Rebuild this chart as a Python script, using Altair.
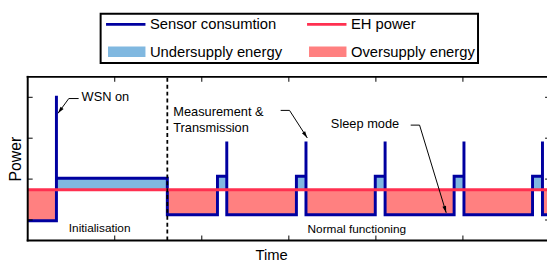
import math
import altair as alt
import pandas as pd

# ---------------- data (x in tick units, y in tick units) ----------------
x_max = 5.966
y_max = 4.0
x_ticks = [1, 2, 3, 4, 5]
y_ticks = [0.5, 1.5, 2.5, 3.5]

level_off = 0.48
level_init = 1.52
level_meas = 1.57
level_sleep = 0.63
level_eh = 1.24
peak_wsn = 3.54
peak_tx = 2.42

t_wsn_on = 0.33
t_init_end = 1.604
cycle_start = [2.18, 3.087, 3.993, 4.899, 5.80]
cycle_spike = [2.287, 3.197, 4.106, 5.012, 5.914]
t_end = 6.3

series_names = ["Sensor consumtion", "EH power", "Undersupply energy", "Oversupply energy"]
series_colors = ["#0000A0", "#FF3050", "#80B8E0", "#FF8080"]

ann_text = ["WSN on", "Measurement &", "Transmission", "Sleep mode", "Initialisation", "Normal functioning"]
ann_x = [0.619, 1.672, 1.672, 3.483, 0.472, 3.215]
ann_y = [3.494, 3.14, 2.74, 2.836, 0.313, 0.272]
ann_fs = [13, 13, 13, 13, 12, 12]

arrow_id = ["wsn", "wsn", "wsn", "meas", "meas", "meas", "sleep", "sleep", "sleep"]
arrow_x = [0.585, 0.472, 0.348, 2.906, 3.008, 3.212, 4.40, 4.502, 4.808]
arrow_y = [3.47, 3.47, 3.108, 3.18, 3.18, 2.506, 2.82, 2.82, 0.675]

# ---------------- tables ----------------
sx, sy = [0, t_wsn_on, t_wsn_on, t_wsn_on, t_init_end, t_init_end], \
         [level_off, level_off, peak_wsn, level_init, level_init, level_sleep]
for cs, sp in zip(cycle_start, cycle_spike):
    sx += [cs, cs, sp, sp, sp]
    sy += [level_sleep, level_meas, level_meas, peak_tx, level_sleep]
sx += [t_end]
sy += [level_sleep]
sensor = pd.DataFrame({"t": sx, "p": sy, "i": range(len(sx))})

over = pd.DataFrame({
    "t0": [0, t_init_end] + cycle_spike,
    "t1": [t_wsn_on] + cycle_start + [t_end],
    "p0": [level_off] + [level_sleep] * (len(cycle_start) + 1),
    "p1": [level_eh] * (len(cycle_start) + 2),
})
under = pd.DataFrame({
    "t0": [t_wsn_on] + cycle_start,
    "t1": [t_init_end] + cycle_spike,
    "p0": [level_eh] * (len(cycle_start) + 1),
    "p1": [level_init] + [level_meas] * len(cycle_start),
})
eh = pd.DataFrame({"t": [0, t_end], "p": [level_eh, level_eh]})
dash = pd.DataFrame({"t0": [t_init_end], "t1": [t_init_end], "p0": [0], "p1": [y_max]})

borders = pd.DataFrame({
    "t0": [0, 0, 0], "t1": [x_max, x_max, 0],
    "p0": [0, y_max, 0], "p1": [0, y_max, y_max],
})
tx_len, ty_len = 0.057, 0.12
ticks = pd.DataFrame({
    "t0": x_ticks + x_ticks + [0] * 4 + [x_max - 0.022] * 4,
    "t1": x_ticks + x_ticks + [tx_len] * 4 + [x_max] * 4,
    "p0": [0] * 5 + [y_max - ty_len] * 5 + y_ticks + y_ticks,
    "p1": [ty_len] * 5 + [y_max] * 5 + y_ticks + y_ticks,
})

arrows = pd.DataFrame({"a": arrow_id, "t": arrow_x, "p": arrow_y, "i": range(len(arrow_x))})
heads = []
for k in range(2, len(arrow_x), 3):
    dx = (arrow_x[k] - arrow_x[k - 1]) * 88.33
    dy = -(arrow_y[k] - arrow_y[k - 1]) * 41.5
    ang = math.degrees(math.atan2(dx, -dy)) % 360
    heads.append({"t": arrow_x[k], "p": arrow_y[k], "ang": ang})
heads = pd.DataFrame(heads)

ann = pd.DataFrame({"txt": ann_text, "t": ann_x, "p": ann_y, "fs": ann_fs})

line_path = "M-1,-0.3H7V0.3H-1Z"
rect_path = "M-0.6,-1.05H7V1.05H-0.6Z"
leg_df = pd.DataFrame({"series": series_names, "t": [1] * 4, "p": [1] * 4})

# ---------------- chart ----------------
FONT = "Liberation Sans"
xs = alt.Scale(domain=[0, x_max], nice=False, zero=False)
ys = alt.Scale(domain=[0, y_max], nice=False, zero=False)
xa = alt.Axis(title="Time", domain=False, ticks=False, labels=False, grid=False,
              titleFont=FONT, titleFontSize=15, titleFontWeight="normal",
              titleColor="black", titlePadding=7, titleX=247, titleAlign="center")
ya = alt.Axis(title="Power", domain=False, ticks=False, labels=False, grid=False,
              titleFont=FONT, titleFontSize=16, titleFontWeight="normal",
              titleColor="black", titlePadding=4)


def X(f):
    return alt.X(f"{f}:Q", scale=xs, axis=xa)


def Y(f):
    return alt.Y(f"{f}:Q", scale=ys, axis=ya)


over_l = alt.Chart(over).mark_rect(color=series_colors[3], clip=True).encode(
    x=X("t0"), x2="t1", y=Y("p0"), y2="p1")
under_l = alt.Chart(under).mark_rect(color=series_colors[2], clip=True).encode(
    x=X("t0"), x2="t1", y=Y("p0"), y2="p1")
sensor_l = alt.Chart(sensor).mark_line(color=series_colors[0], strokeWidth=3, clip=True).encode(
    x=X("t"), y=Y("p"), order="i:Q")
eh_l = alt.Chart(eh).mark_line(color=series_colors[1], strokeWidth=3, clip=True).encode(
    x=X("t"), y=Y("p"))
dash_l = alt.Chart(dash).mark_rule(color="black", strokeWidth=1.8, strokeDash=[4, 3]).encode(
    x=X("t0"), x2="t1", y=Y("p0"), y2="p1")
border_l = alt.Chart(borders).mark_rule(color="black", strokeWidth=2, strokeCap="square").encode(
    x=X("t0"), x2="t1", y=Y("p0"), y2="p1")
tick_l = alt.Chart(ticks).mark_rule(color="black", strokeWidth=1).encode(
    x=X("t0"), x2="t1", y=Y("p0"), y2="p1")
arrow_l = alt.Chart(arrows).mark_line(color="black", strokeWidth=1).encode(
    x=X("t"), y=Y("p"), detail="a:N", order="i:Q")
head_l = alt.Chart(heads).mark_point(shape="M0,0L0.55,2L-0.55,2Z", filled=True, size=49,
                                     color="black", strokeWidth=0, opacity=1).encode(
    x=X("t"), y=Y("p"), angle=alt.Angle("ang:Q", scale=None))
text13 = alt.Chart(ann[ann.fs == 13]).mark_text(align="left", baseline="middle", font=FONT,
                                                fontSize=13, color="black").encode(
    x=X("t"), y=Y("p"), text="txt:N")
text12 = alt.Chart(ann[ann.fs == 12]).mark_text(align="left", baseline="middle", font=FONT,
                                                fontSize=12, color="black").encode(
    x=X("t"), y=Y("p"), text="txt:N")

leg = alt.Legend(title=None, orient="none", legendX=74, legendY=-64, columns=2,
                 direction="horizontal",
                 columnPadding=22, rowPadding=12, padding=3,
                 labelFont=FONT, labelFontSize=15, labelColor="black", labelOffset=32,
                 labelLimit=400, symbolSize=100, symbolOpacity=1, symbolStrokeWidth=0,
                 strokeColor="black")
legend_l = alt.Chart(leg_df).mark_point(filled=True, opacity=0, size=100).encode(
    x=X("t"), y=Y("p"),
    color=alt.Color("series:N", scale=alt.Scale(domain=series_names, range=series_colors), legend=leg),
    shape=alt.Shape("series:N", scale=alt.Scale(domain=series_names,
                                                range=[line_path, line_path, rect_path, rect_path]),
                    legend=leg),
)

chart = alt.layer(
    over_l, under_l, sensor_l, eh_l, dash_l, border_l, tick_l, arrow_l, head_l, text13, text12, legend_l
).properties(
    width=527, height=166,
    padding={"left": 20, "top": 68, "right": 0, "bottom": 20},
    autosize=alt.AutoSizeParams(type="none"),
).configure_view(strokeOpacity=0).configure_legend(strokeWidth=2)

chart.save("out.html", embed_options={"renderer": "svg", "actions": False})
